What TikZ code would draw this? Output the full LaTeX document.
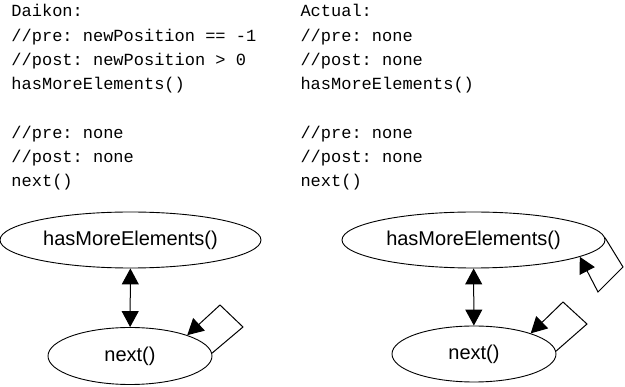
\documentclass[tikz,border=0pt]{standalone}
\usepackage{fontspec}
\setmainfont{Liberation Sans}
\setmonofont{Liberation Mono}
\usetikzlibrary{shapes.geometric,arrows.meta}
\tikzset{ s/.style = { ellipse % state
        , draw
        , line width = 0.9pt
        , inner sep = 0pt
        , font = \fontsize{20}{24}\selectfont
        }
        , c/.style = { anchor = base west % contract text
        , inner sep = 0pt
        , align = left
        , font = \fontsize{17}{24.3}\selectfont\ttfamily
        }
        }

\begin{document}
\begin{tikzpicture}[x=1pt, y=-1pt, line width=1pt,
        edge_style/.style={draw=black, {Triangle[length=16pt,width=17pt]}-{Triangle[length=16pt,width=17pt]}},
        loop_style/.style={draw=black, -{Triangle[length=16pt,width=17pt]}}]
        \useasboundingbox (0,0) rectangle (625,387);

        \node [c](daikon) at (11,187) {Daikon:\\//pre: newPosition == -1\\//post: newPosition > 0\\hasMoreElements()\\[24.3pt]//pre: none\\//post: none\\next()};
        \node [c](actual) at (300,187) {Actual:\\//pre: none\\//post: none\\hasMoreElements()\\[24.3pt]//pre: none\\//post: none\\next()};

        \node [s,minimum width=261pt,minimum height=56pt](hme1) at (130.5,240) {hasMoreElements()};
        \node [s,minimum width=164pt,minimum height=57pt](nx1) at (130,356) {next()};
        \node [s,minimum width=263pt,minimum height=56pt](hme2) at (473.5,240) {hasMoreElements()};
        \node [s,minimum width=164pt,minimum height=56pt](nx2) at (474,354) {next()};

        \draw [edge_style] (hme1) -- (nx1);
        \draw [edge_style] (hme2) -- (nx2);

        \coordinate (l1a) at (243,327);
        \coordinate (l1b) at (220,305);
        \draw [loop_style] (nx1.2) -- (l1a) -- (l1b) -- (nx1.20);
        \coordinate (l2a) at (623,267);
        \coordinate (l2b) at (598,292);
        \draw [loop_style] (hme2.1) -- (l2a) -- (l2b) -- (hme2.-9);
        \coordinate (l3a) at (587,324);
        \coordinate (l3b) at (563,302);
        \draw [loop_style] (nx2.2) -- (l3a) -- (l3b) -- (nx2.20);
\end{tikzpicture}
\end{document}
